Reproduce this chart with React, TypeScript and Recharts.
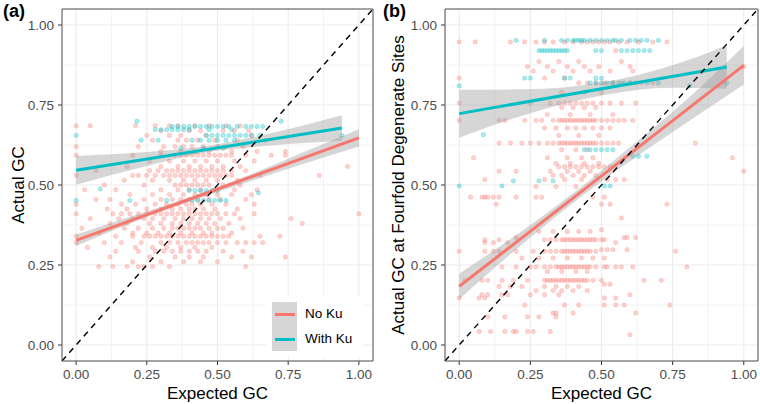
import React from "react";
import {
  Area,
  CartesianGrid,
  ComposedChart,
  Line,
  ReferenceArea,
  ReferenceLine,
  Scatter,
  XAxis,
  YAxis,
} from "recharts";

const RED = "#F8766D";
const TEAL = "#00BFC4";
const FONT = "'Liberation Sans', Arial, Helvetica, sans-serif";

const ticks = [0, 0.25, 0.5, 0.75, 1];
const minorTicks = [0.125, 0.375, 0.625, 0.875];
const legendItems = [
  { name: "No Ku", color: RED },
  { name: "With Ku", color: TEAL },
];

// rows of points: [actual GC, expected GC values on that row]
const noKuA: [number, number[]][] = [
  [0.685, [0, 0.05, 0.21, 0.28, 0.33, 0.36, 0.42, 0.47, 0.53, 0.58]],
  [0.67, [0.3, 0.4, 0.44, 0.52, 0.56, 0.61]],
  [0.655, [0.25, 0.33, 0.37, 0.46, 0.62]],
  [0.64, [0.27, 0.36, 0.39, 0.43, 0.49, 0.57, 0.67]],
  [0.62, [0, 0.22, 0.31, 0.35, 0.38, 0.41, 0.45, 0.5, 0.53, 0.59]],
  [0.605, [0.3, 0.37, 0.42, 0.47, 0.55, 0.64, 0.74]],
  [0.593, [0, 0.2, 0.3, 0.35, 0.37, 0.39, 0.41, 0.43, 0.45, 0.47, 0.49, 0.51, 0.53, 0.55, 0.6, 0.69, 0.74]],
  [0.575, [0.26, 0.33, 0.38, 0.42, 0.46, 0.5, 0.56, 0.63]],
  [0.558, [0.18, 0.3, 0.36, 0.4, 0.44, 0.48, 0.52, 0.58, 0.96]],
  [0.545, [0.07, 0.26, 0.29, 0.32, 0.34, 0.36, 0.38, 0.4, 0.42, 0.44, 0.46, 0.48, 0.5, 0.52, 0.55, 0.6]],
  [0.53, [0, 0.2, 0.22, 0.25, 0.28, 0.31, 0.33, 0.35, 0.37, 0.39, 0.41, 0.43, 0.45, 0.47, 0.49, 0.51, 0.53, 0.55, 0.65, 0.86]],
  [0.515, [0.17, 0.27, 0.33, 0.38, 0.42, 0.46, 0.5, 0.57]],
  [0.5, [0.1, 0.24, 0.35, 0.37, 0.39, 0.41, 0.43, 0.45, 0.47, 0.52, 0.58]],
  [0.485, [0.03, 0.14, 0.3, 0.36, 0.4, 0.44, 0.49, 0.56, 0.64]],
  [0.47, [0.19, 0.27, 0.33, 0.38, 0.42, 0.46, 0.5, 0.55, 0.62]],
  [0.455, [0.07, 0.12, 0.24, 0.3, 0.34, 0.37, 0.4, 0.43, 0.47, 0.51, 0.6]],
  [0.44, [0, 0.16, 0.21, 0.28, 0.32, 0.36, 0.39, 0.41, 0.44, 0.48, 0.53, 0.63]],
  [0.425, [0.11, 0.18, 0.25, 0.3, 0.34, 0.37, 0.4, 0.42, 0.45, 0.49, 0.57]],
  [0.41, [0, 0.13, 0.16, 0.19, 0.22, 0.25, 0.28, 0.3, 0.32, 0.34, 0.36, 0.38, 0.4, 0.42, 0.44, 0.46, 0.48, 0.5, 0.53, 0.56, 0.63, 1.0]],
  [0.395, [0.05, 0.15, 0.2, 0.24, 0.27, 0.31, 0.35, 0.38, 0.41, 0.44, 0.47, 0.51, 0.58, 0.76]],
  [0.38, [0.12, 0.18, 0.26, 0.3, 0.34, 0.37, 0.4, 0.43, 0.46, 0.49, 0.54, 0.8]],
  [0.365, [0.02, 0.17, 0.22, 0.27, 0.31, 0.34, 0.36, 0.38, 0.4, 0.42, 0.44, 0.47, 0.5, 0.52, 0.59]],
  [0.35, [0.08, 0.2, 0.25, 0.29, 0.33, 0.37, 0.41, 0.45, 0.48, 0.55]],
  [0.34, [0, 0.14, 0.2, 0.24, 0.26, 0.28, 0.3, 0.32, 0.34, 0.36, 0.38, 0.4, 0.42, 0.44, 0.46, 0.48, 0.5, 0.52, 0.54, 0.65, 0.72]],
  [0.32, [0, 0.1, 0.16, 0.23, 0.3, 0.33, 0.36, 0.39, 0.41, 0.43, 0.45, 0.47, 0.5, 0.53, 0.57, 0.6, 0.63, 0.66]],
  [0.305, [0.04, 0.21, 0.27, 0.32, 0.37, 0.42, 0.48]],
  [0.293, [0.14, 0.22, 0.28, 0.31, 0.34, 0.37, 0.4, 0.43, 0.46, 0.52, 0.59]],
  [0.275, [0.12, 0.26, 0.35, 0.4, 0.45, 0.55, 0.62, 0.74]],
  [0.26, [0.2, 0.3, 0.38, 0.44, 0.5]],
  [0.245, [0.08, 0.13, 0.18, 0.22, 0.24, 0.27, 0.33, 0.6]],
];

const withKuA: [number, number[]][] = [
  [0.699, [0.215, 0.725]],
  [0.683, [0.34, 0.36, 0.38, 0.4, 0.42, 0.44, 0.46, 0.48, 0.5, 0.52, 0.54, 0.57, 0.6, 0.62, 0.64, 0.66]],
  [0.673, [0.28, 0.3, 0.32, 0.34, 0.36, 0.38, 0.4, 0.47, 0.55]],
  [0.655, [0, 0.46, 0.48, 0.5, 0.52, 0.54, 0.56, 0.58, 0.6, 0.62, 0.65, 0.94]],
  [0.64, [0.23, 0.29, 0.41, 0.44, 0.47, 0.5, 0.53, 0.56]],
  [0.615, [0.37, 0.45, 0.52]],
  [0.488, [0.085]],
  [0.483, [0.4, 0.42, 0.44, 0.46, 0.48, 0.5]],
  [0.476, [0.645]],
  [0.452, [0, 0.19, 0.32, 0.41, 0.43, 0.45, 0.47, 0.49, 0.51, 0.53]],
];

const noKuB: [number, number[]][] = [
  [0.947, [0, 0.056, 0.18, 0.23, 0.27, 0.3, 0.33, 0.37, 0.4, 0.43, 0.45, 0.47, 0.49, 0.51, 0.53, 0.56, 0.59, 0.63, 0.68, 0.73]],
  [0.92, [0.55]],
  [0.886, [0.28, 0.35, 0.42, 0.57]],
  [0.87, [0.24, 0.31, 0.38, 0.44, 0.49, 0.6, 1.0]],
  [0.856, [0.26, 0.33, 0.4, 0.46, 0.53, 0.61]],
  [0.834, [0, 0.3, 0.37]],
  [0.819, [0.42, 0.45, 0.48, 0.51, 0.54, 0.57, 0.6, 0.64, 0.68]],
  [0.79, [0.36, 0.44, 0.5]],
  [0.756, [0, 0.25, 0.32, 0.35, 0.37, 0.39, 0.41, 0.43, 0.45, 0.47, 0.5, 0.53, 0.57, 0.62]],
  [0.742, [0.36, 0.4, 0.44, 0.48]],
  [0.72, [0.31, 0.39, 0.46, 0.54]],
  [0.702, [0, 0.14, 0.16, 0.23, 0.27, 0.29, 0.33, 0.35, 0.36, 0.37, 0.38, 0.39, 0.4, 0.41, 0.42, 0.43, 0.44, 0.45, 0.46, 0.47, 0.48, 0.5, 0.52, 0.54, 0.56, 0.58, 0.61]],
  [0.678, [0.3, 0.34, 0.38, 0.41, 0.44, 0.47, 0.5, 0.53]],
  [0.655, [0.35, 0.42, 0.49]],
  [0.631, [0.14, 0.18, 0.22, 0.25, 0.28, 0.31, 0.33, 0.35, 0.36, 0.37, 0.38, 0.39, 0.4, 0.41, 0.42, 0.43, 0.44, 0.45, 0.46, 0.47, 0.48, 0.5, 0.52, 0.54, 0.56, 0.83]],
  [0.61, [0.36, 0.41, 0.45]],
  [0.585, [0.05, 0.31, 0.38, 0.43, 0.47, 0.96]],
  [0.567, [0.34, 0.39, 0.44, 0.49]],
  [0.557, [0.35, 0.37, 0.39, 0.41, 0.43, 0.45, 0.47, 0.49, 0.51, 0.53]],
  [0.543, [0.14, 0.2, 0.32, 0.38, 0.42, 0.46, 1.0]],
  [0.53, [0.33, 0.36, 0.4, 0.44, 0.48]],
  [0.517, [0.09, 0.3, 0.37, 0.43, 0.52, 0.55, 0.58]],
  [0.495, [0.27, 0.34, 0.41]],
  [0.462, [0.04, 0.08, 0.09, 0.1, 0.12, 0.14, 0.2, 0.27, 0.29, 0.47, 0.51]],
  [0.44, [0.13, 0.5, 0.53, 0.73]],
  [0.397, [0.57]],
  [0.36, [0.5]],
  [0.355, [0.28, 0.33, 0.38, 0.42, 0.46]],
  [0.336, [0.2, 0.58, 0.59, 0.62]],
  [0.329, [0.09, 0.14, 0.3, 0.32, 0.34, 0.36, 0.37, 0.38, 0.39, 0.4, 0.41, 0.42, 0.43, 0.44, 0.45, 0.46, 0.47, 0.48, 0.5, 0.51]],
  [0.32, [0.09, 0.12, 0.17, 0.55]],
  [0.298, [0.5, 0.52, 0.54, 0.59]],
  [0.293, [0, 0.09, 0.12, 0.14, 0.2, 0.26, 0.3, 0.32, 0.34, 0.36, 0.37, 0.38, 0.39, 0.4, 0.41, 0.42, 0.43, 0.44, 0.45, 0.46, 0.48, 0.76]],
  [0.272, [0.22, 0.28, 0.33, 0.38, 0.43, 0.47, 0.51]],
  [0.244, [0.15, 0.2, 0.25, 0.27, 0.3, 0.32, 0.34, 0.35, 0.36, 0.37, 0.38, 0.39, 0.4, 0.41, 0.42, 0.43, 0.44, 0.45, 0.46, 0.48, 0.51, 0.52, 0.55, 0.57, 0.61, 0.8]],
  [0.23, [0.31, 0.36, 0.41, 0.45]],
  [0.202, [0.02, 0.08, 0.1, 0.15, 0.19, 0.24, 0.3, 0.31, 0.32, 0.33, 0.34, 0.35, 0.36, 0.37, 0.38, 0.39, 0.4, 0.41, 0.42, 0.43, 0.44, 0.45, 0.47, 0.5, 0.65, 0.71]],
  [0.19, [0.51, 0.53]],
  [0.183, [0.14, 0.18, 0.22, 0.3, 0.34, 0.38, 0.42]],
  [0.17, [0.27, 0.33, 0.36, 0.4, 0.45]],
  [0.157, [0.08, 0.1, 0.15, 0.17, 0.25, 0.3, 0.35, 0.6]],
  [0.147, [0, 0.07, 0.09, 0.51, 0.55]],
  [0.125, [0.23, 0.37, 0.42, 0.51, 0.55, 0.58, 0.74]],
  [0.1, [0.33, 0.34, 0.4, 0.62]],
  [0.088, [0.1, 0.16, 0.24, 0.28, 0.34]],
  [0.042, [0.07, 0.11, 0.16, 0.19, 0.2, 0.24, 0.26, 0.32]],
  [0.032, [0.6]],
];

const withKuB: [number, number[]][] = [
  [0.952, [0.2, 0.3, 0.36, 0.38, 0.4, 0.41, 0.42, 0.43, 0.44, 0.46, 0.48, 0.5, 0.52, 0.54, 0.55, 0.57, 0.6, 0.62, 0.64, 0.66, 0.7]],
  [0.92, [0.28, 0.29, 0.3, 0.31, 0.32, 0.33, 0.34, 0.35, 0.36, 0.37, 0.38, 0.48, 0.5, 0.57, 0.59, 0.61, 0.63, 0.65, 0.67]],
  [0.834, [0.23, 0.25, 0.37, 0.39, 0.48, 0.5]],
  [0.819, [0.46, 0.48, 0.5, 0.52, 0.54, 0.56, 0.58, 0.6, 0.62, 0.66, 0.7, 0.94]],
  [0.81, [0, 0.81]],
  [0.657, [0.085]],
  [0.61, [0.44, 0.46, 0.48, 0.5, 0.52, 0.54]],
  [0.59, [0.61, 0.63, 0.66]],
  [0.513, [0.19, 0.28, 0.33]],
  [0.497, [0, 0.15, 0.51, 0.53]],
];

// fitted lines: [expected, actual]
const fitNoKuA: [number, number][] = [[0, 0.327], [1, 0.647]];
const fitWithKuA: [number, number][] = [[0, 0.546], [0.94, 0.678]];
const fitNoKuB: [number, number][] = [[0, 0.183], [1, 0.874]];
const fitWithKuB: [number, number][] = [[0, 0.723], [0.94, 0.869]];

// confidence bands: [expected, lower, upper]
const bandNoKuA: [number, number, number][] = [
  [0, 0.309, 0.345], [0.2, 0.383, 0.403], [0.4, 0.448, 0.462],
  [0.6, 0.507, 0.527], [0.8, 0.565, 0.601], [1, 0.62, 0.674],
];
const bandWithKuA: [number, number, number][] = [
  [0, 0.501, 0.591], [0.25, 0.559, 0.603], [0.45, 0.6, 0.62],
  [0.7, 0.624, 0.664], [0.94, 0.638, 0.718],
];
const bandNoKuB: [number, number, number][] = [
  [0, 0.143, 0.223], [0.2, 0.299, 0.343], [0.4, 0.444, 0.474],
  [0.6, 0.574, 0.618], [0.8, 0.695, 0.767], [1, 0.814, 0.934],
];
const bandWithKuB: [number, number, number][] = [
  [0, 0.648, 0.798], [0.23, 0.719, 0.799], [0.5, 0.78, 0.82],
  [0.75, 0.804, 0.874], [0.94, 0.801, 0.937],
];

const toPoints = (rows: [number, number[]][]) =>
  rows.flatMap(([y, xs]) => xs.map((x) => ({ x, y })));
const toLine = (pts: [number, number][]) => pts.map(([x, y]) => ({ x, y }));
const toBand = (b: [number, number, number][]) =>
  b.map(([x, lo, hi]) => ({ x, band: [lo, hi] }));

// ggplot-like alpha point: fill and outline overlap, giving a faint ring
const dot = (color: string) => (props: any) =>
  (
    <circle
      cx={props.cx}
      cy={props.cy}
      r={2.2}
      fill={color}
      fillOpacity={0.33}
      stroke={color}
      strokeOpacity={0.33}
      strokeWidth={0.7}
    />
  );

const fmt = (v: number) => v.toFixed(2);

interface PanelProps {
  tag: string;
  yTitle: string;
  noKu: [number, number[]][];
  withKu: [number, number[]][];
  fitNoKu: [number, number][];
  fitWithKu: [number, number][];
  bandNoKu: [number, number, number][];
  bandWithKu: [number, number, number][];
  yWidth: number;
  right: number;
  legend?: boolean;
}

const Panel = (p: PanelProps) => (
  <div style={{ position: "relative", width: 380, height: 404 }}>
    <ComposedChart width={380} height={404} margin={{ top: 9, right: p.right, bottom: 0, left: 0 }}>
      <CartesianGrid stroke="#EBEBEB" strokeWidth={1.1} />
      {minorTicks.map((v) => (
        <ReferenceLine key={"mx" + v} x={v} stroke="#EBEBEB" strokeWidth={0.6} zIndex={-90} />
      ))}
      {minorTicks.map((v) => (
        <ReferenceLine key={"my" + v} y={v} stroke="#EBEBEB" strokeWidth={0.6} zIndex={-90} />
      ))}
      <XAxis
        type="number"
        dataKey="x"
        domain={[-0.05, 1.05]}
        ticks={ticks}
        tickFormatter={fmt}
        allowDataOverflow
        height={43}
        axisLine={false}
        tickSize={4}
        tickMargin={4}
        tickLine={{ stroke: "#333" }}
        tick={{ fill: "#4D4D4D", fontSize: 13.5 }}
        label={{ value: "Expected GC", position: "insideBottom", offset: 5.5, fill: "#000", fontSize: 17 }}
      />
      <YAxis
        type="number"
        dataKey="y"
        domain={[-0.05, 1.05]}
        ticks={ticks}
        tickFormatter={fmt}
        allowDataOverflow
        width={p.yWidth}
        axisLine={false}
        tickSize={4}
        tickMargin={4}
        tickLine={{ stroke: "#333" }}
        tick={{ fill: "#4D4D4D", fontSize: 13.5 }}
        label={{
          value: p.yTitle,
          angle: -90,
          position: "insideLeft",
          offset: 18,
          fill: "#000",
          fontSize: 17,
          style: { textAnchor: "middle" },
        }}
      />
      <Scatter data={toPoints(p.noKu)} shape={dot(RED)} isAnimationActive={false} zIndex={100} />
      <Scatter data={toPoints(p.withKu)} shape={dot(TEAL)} isAnimationActive={false} zIndex={101} />
      <Area data={toBand(p.bandNoKu)} dataKey="band" type="monotone" stroke="none" fill="#999999" fillOpacity={0.4} isAnimationActive={false} zIndex={200} />
      <Area data={toBand(p.bandWithKu)} dataKey="band" type="monotone" stroke="none" fill="#999999" fillOpacity={0.4} isAnimationActive={false} zIndex={201} />
      <Line data={toLine(p.fitNoKu)} dataKey="y" stroke={RED} strokeWidth={3} dot={false} isAnimationActive={false} zIndex={300} />
      <Line data={toLine(p.fitWithKu)} dataKey="y" stroke={TEAL} strokeWidth={3} dot={false} isAnimationActive={false} zIndex={301} />
      <ReferenceLine
        segment={[{ x: -0.05, y: -0.05 }, { x: 1.05, y: 1.05 }]}
        stroke="#000"
        strokeWidth={1.4}
        strokeDasharray="6 5"
        ifOverflow="visible"
        zIndex={400}
      />
      <ReferenceArea x1={-0.05} x2={1.05} y1={-0.05} y2={1.05} fill="none" stroke="#555" strokeWidth={1} ifOverflow="visible" zIndex={500} />
    </ComposedChart>
    <div style={{ position: "absolute", left: 3, top: 1, fontSize: 18, fontWeight: "bold" }}>{p.tag}</div>
    {p.legend && (
      <div style={{ position: "absolute", left: 266, top: 297, width: 97, height: 60, background: "#fff" }}>
        {legendItems.map((it, i) => (
          <div key={it.name} style={{ position: "absolute", left: 6, top: 5 + i * 24.5, width: 91, height: 24.5 }}>
            <div style={{ position: "absolute", left: 0, top: 0, width: 25, height: 24.5, background: "#D6D6D6" }} />
            <div style={{ position: "absolute", left: 2.5, top: 11, width: 20, height: 3, background: it.color }} />
            <div style={{ position: "absolute", left: 33, top: 4, fontSize: 13.5, lineHeight: "16px" }}>{it.name}</div>
          </div>
        ))}
      </div>
    )}
  </div>
);

export default function App() {
  return (
    <div style={{ position: "absolute", left: 0, top: 0, width: 760, height: 404, background: "#fff", fontFamily: FONT, display: "flex" }}>
      <Panel
        tag="(a)"
        yTitle="Actual GC"
        noKu={noKuA}
        withKu={withKuA}
        fitNoKu={fitNoKuA}
        fitWithKu={fitWithKuA}
        bandNoKu={bandNoKuA}
        bandWithKu={bandWithKuA}
        yWidth={62}
        right={7}
        legend
      />
      <Panel
        tag="(b)"
        yTitle="Actual GC at Fourfold Degenerate Sites"
        noKu={noKuB}
        withKu={withKuB}
        fitNoKu={fitNoKuB}
        fitWithKu={fitWithKuB}
        bandNoKu={bandNoKuB}
        bandWithKu={bandWithKuB}
        yWidth={65}
        right={2}
      />
    </div>
  );
}
